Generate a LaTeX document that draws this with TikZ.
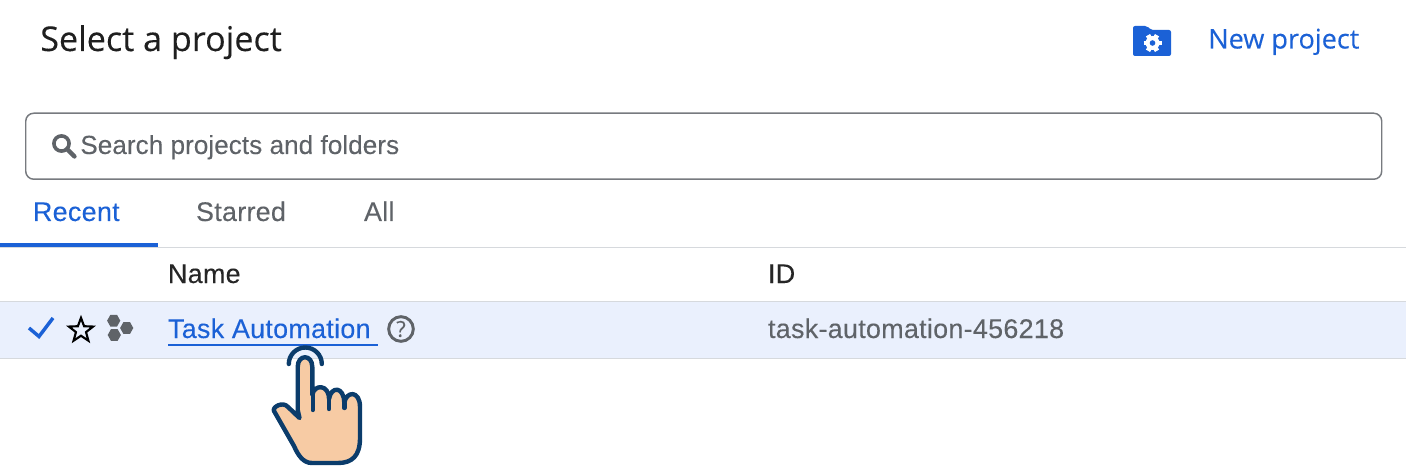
\documentclass[tikz,border=0pt]{standalone}
\usepackage{fontspec}
\usetikzlibrary{calc,shapes.geometric}
\setmainfont{Liberation Sans}
\newfontfamily\titlef[FakeBold=0.15]{Open Sans}
\newfontfamily\bodyf[LetterSpace=1,FakeBold=0.12]{Liberation Sans}
\newfontfamily\searchf[FakeBold=0.05]{Liberation Sans}
\definecolor{gblue}{HTML}{1B61D6}
\definecolor{ggray}{HTML}{5F6368}
\definecolor{rowbg}{HTML}{EAF0FD}
\definecolor{rule}{HTML}{D6D9DD}
\definecolor{navy}{HTML}{0B3C6B}
\definecolor{skin}{HTML}{F7CBA4}
\tikzset{
  x=0.75pt,y=-0.75pt,
  txt/.style={anchor=base west,inner sep=0pt,outer sep=0pt,font=\bodyf\fontsize{20.2pt}{24pt}\selectfont},
  graytxt/.style={txt,text=ggray},
  darktxt/.style={txt,text=black!85},
  bluetxt/.style={txt,text=gblue},
  rulel/.style={draw=rule,line width=1.1pt},
  handl/.style={draw=navy,line width=3.3pt,line cap=round,line join=round}
}
\begin{document}
\begin{tikzpicture}
\useasboundingbox[fill=white] (0,0) rectangle (1406,470);
% row
\fill[rowbg] (0,302) rectangle (1406,358);
\draw[rulel] (0,247.5) -- (1406,247.5);
\draw[rulel] (0,301.5) -- (1406,301.5);
\draw[rulel] (0,358.5) -- (1406,358.5);
% header
\node[anchor=base west,inner sep=0pt,font=\titlef\fontsize{25.6pt}{30pt}\selectfont,text=black!88] (title) at (40,51) {Select a project};
\node[anchor=base west,inner sep=0pt,font=\titlef\fontsize{20.3pt}{24pt}\selectfont,text=gblue] (newp) at (1208,48.5) {New project};
% folder icon
\fill[gblue,rounded corners=1.5pt] (1133,26) -- (1147,26) -- (1151,30) -- (1171,30) -- (1171,56) -- (1133,56) -- cycle;
\foreach \a in {0,60,120} \draw[white,line width=3.6pt] ($(1152.5,43)+(\a:-9)$) -- ($(1152.5,43)+(\a:9)$);
\fill[white] (1152.5,43) circle[radius=7];
\fill[gblue] (1152.5,43) circle[radius=2.8];
% search box
\node[draw=ggray!85,line width=1.1pt,rounded corners=6pt,minimum width=1017pt,minimum height=49.5pt,inner sep=0pt,anchor=north west] (search) at (25,112.5) {};
\draw[ggray,line width=2.7pt] (61.5,143.5) circle[radius=7.6];
\draw[ggray,line width=3.2pt,line cap=round] (67,149) -- (74.5,156.5);
\node[anchor=base west,inner sep=0pt,text=ggray,font=\searchf\fontsize{19.65pt}{24pt}\selectfont] (searcht) at (80,154) {Search projects and folders};
% tabs
\node[bluetxt] (recent) at (33,221) {Recent};
\node[graytxt] (starred) at (196,221) {Starred};
\node[graytxt] (all) at (364,221) {All};
\fill[gblue] (0,243.5) rectangle (158,247);
% columns
\node[darktxt] (name) at (168,283) {Name};
\node[darktxt] (id) at (768,283) {ID};
% row content
\draw[gblue,line width=2.6pt] (29,328) -- (39,336.5) -- (53,318);
\node[draw=black,line width=1.6pt,line join=miter,star,star points=5,star point ratio=2.4,minimum size=19pt,inner sep=0pt] (starr) at (81,330.5) {};
\foreach \cx/\cy in {113.7/320.7,126.7/328,114.3/335}
  \fill[ggray] (\cx+6.6,\cy) -- (\cx+3.3,\cy+5.9) -- (\cx-3.3,\cy+5.9) -- (\cx-6.6,\cy) -- (\cx-3.3,\cy-5.9) -- (\cx+3.3,\cy-5.9) -- cycle;
\node[bluetxt] (task) at (168,338) {Task Automation};
\fill[gblue] (168,343.5) rectangle (378,345.5);
\node[draw=ggray,line width=2.2pt,circle,minimum size=18.5pt,inner sep=0pt,text=ggray,font=\titlef\fontsize{16.5pt}{18pt}\selectfont] (help) at (401,329) {?};
\node[graytxt] (tid) at (768,338) {task-automation-456218};
% hand
\draw[handl,fill=skin]
 (297.7,410) -- (297.7,367) .. controls (297.7,354) and (312.3,354) .. (312.3,367) -- (312.3,395)
 .. controls (314,384) and (329,384) .. (329,399)
 .. controls (331,386) and (344,386) .. (344.3,403)
 .. controls (346,391) and (360,390) .. (360,407)
 -- (360,438) .. controls (360,456) and (352,463) .. (338,463)
 -- (312,463) .. controls (303,463) and (298,455) .. (294,446)
 -- (274,411) .. controls (272,407) and (283,401) .. (288,407)
 -- (299.5,418) -- (297.7,410);
\draw[handl] (312.8,392) -- (312.8,410);
\draw[handl] (329,399) -- (329,409);
\draw[handl] (344.3,403) -- (344.3,408);
\draw[handl] (288.8,364) arc[start angle=180,end angle=360,radius=16.5];
\end{tikzpicture}
\end{document}
